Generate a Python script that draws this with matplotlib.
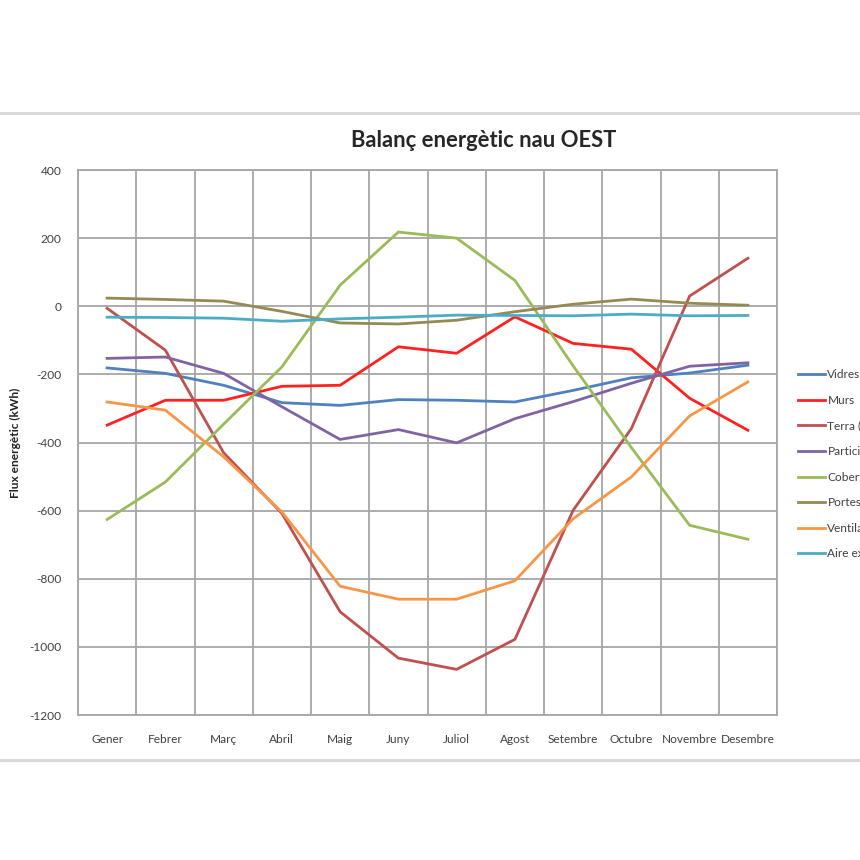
import matplotlib
matplotlib.use("Agg")
import matplotlib.pyplot as plt
from matplotlib.lines import Line2D

plt.rcParams['font.family'] = ['Lato', 'DejaVu Sans']
plt.rcParams['axes.unicode_minus'] = False

# Months
mesos = ["Gener", "Febrer", "Març", "Abril", "Maig", "Juny",
         "Juliol", "Agost", "Setembre", "Octubre", "Novembre", "Desembre"]

# Monthly energy flows (kWh)
vidres = [-181, -197, -232, -283, -291, -274, -276, -281, -247, -210, -196, -173]
murs = [-349, -276, -276, -235, -232, -119, -138, -31, -109, -126, -270, -364]
terra = [-6, -129, -430, -608, -897, -1033, -1066, -978, -599, -359, 30, 141]
particions = [-153, -149, -197, -295, -391, -362, -401, -330, -280, -226, -176, -166]
cobertes = [-626, -516, -346, -178, 62, 218, 200, 76, -175, -415, -643, -684]
portes = [24, 20, 15, -15, -49, -52, -41, -16, 6, 21, 9, 3]
ventilacio = [-281, -305, -442, -604, -822, -860, -860, -806, -624, -501, -322, -222]
aire_ext = [-32, -33, -35, -44, -37, -32, -26, -27, -28, -23, -28, -27]

series = [
    ("Vidres", vidres, "#4F81BD"),
    ("Murs", murs, "#FF2020"),
    ("Terra (solera)", terra, "#C0504D"),
    ("Particions", particions, "#8064A2"),
    ("Cobertes", cobertes, "#9BBB59"),
    ("Portes", portes, "#948A54"),
    ("Ventilació", ventilacio, "#F79646"),
    ("Aire exterior", aire_ext, "#4BACC6"),
]

fig = plt.figure(figsize=(8.6, 8.6), dpi=100)
ax = fig.add_axes([0.0907, 0.1686, 0.8128, 0.6337])

x = list(range(len(mesos)))
for name, vals, col in series:
    ax.plot(x, vals, color=col, lw=2.0, label=name, solid_joinstyle="round")

ax.set_xlim(-0.5, len(mesos) - 0.5)
ax.set_ylim(-1200, 400)
ax.set_yticks(range(-1200, 401, 200))
ax.set_xticks(x)
ax.set_xticklabels(mesos)
ax.set_xticks([i - 0.5 for i in range(len(mesos) + 1)], minor=True)

grid_col = "#a6a6a6"
ax.grid(True, which="minor", axis="x", color=grid_col, lw=1.3)
ax.grid(True, which="major", axis="y", color=grid_col, lw=1.3)
ax.set_axisbelow(True)
for sp in ax.spines.values():
    sp.set_color(grid_col)
    sp.set_linewidth(1.3)

ax.tick_params(axis="both", which="both", length=0, labelsize=8.6,
               labelcolor="#404040")
ax.tick_params(axis="x", pad=14)
ax.tick_params(axis="y", pad=12)

ax.set_ylabel("Flux energètic (kWh)", fontsize=8.6, fontweight="bold",
              color="#202020")
ax.yaxis.set_label_coords(-0.0815, 0.50)

fig.text(0.563, 0.837, "Balanç energètic nau OEST", ha="center", va="center",
         fontsize=15.8, fontweight="bold", color="#262626")

leg = fig.legend(loc="upper left", bbox_to_anchor=(0.9225, 0.576),
                 frameon=False, fontsize=8.6, handlelength=2.25,
                 handletextpad=0.2, labelspacing=1.22, borderaxespad=0)
for t in leg.get_texts():
    t.set_color("#404040")

# frame lines of the embedded picture
for yf in (1 - 113 / 860, 1 - 760 / 860):
    fig.add_artist(Line2D([0, 1], [yf, yf], transform=fig.transFigure,
                          color="#d9d9d9", lw=2.2))

fig.savefig("out.png", dpi=100, facecolor="white")
